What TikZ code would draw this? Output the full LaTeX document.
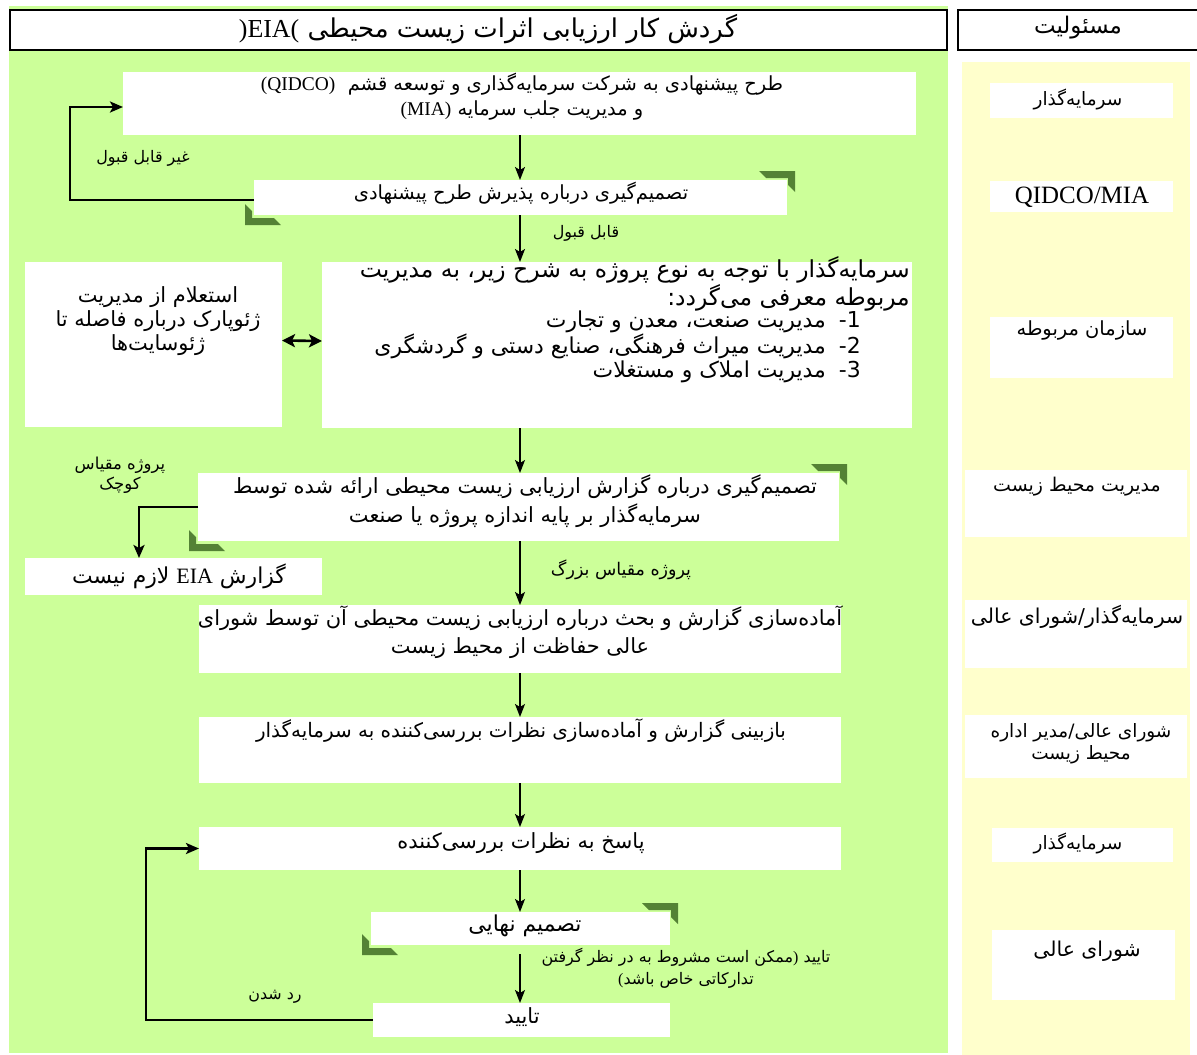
\documentclass[tikz,border=0pt]{standalone}
\usepackage{fontspec}
\setmainfont{Liberation Serif}
\newfontfamily\fa[Script=Arabic]{DejaVu Sans}
\TeXXeTstate=1
\usetikzlibrary{arrows.meta,fit,calc}
\newcommand\R[1]{\beginR#1\endR}
\newcommand\lat[1]{\beginL{\rmfamily #1}\endL{}}
\newcommand\fs[2]{\fa\fontsize{#1}{#2}\selectfont}
\definecolor{laneGreen}{RGB}{204,255,153}
\definecolor{laneYellow}{RGB}{255,255,204}
\definecolor{cornerGreen}{RGB}{84,130,53}
% green corner brackets around a box (top-right and bottom-left)
\newcommand\cornerTR[1]{%
  \path ([shift={(8,-9)}]#1.north east) coordinate (#1-tr);
  \fill[cornerGreen] ($(#1-tr)+(-36,0)$) -- (#1-tr) -- ++(0,21) -- ++(-7,-7) -- ++(0,-7) -- ++(-22,0) -- cycle;}
\newcommand\cornerBL[1]{%
  \path ([shift={(-9,10)}]#1.south west) coordinate (#1-bl);
  \fill[cornerGreen] (#1-bl) -- ++(0,-21) -- ++(7,7) -- ++(0,7) -- ++(22,0) -- ++(7,7) -- cycle;}
\begin{document}
\begin{tikzpicture}[x=1bp,y=-1bp,
  wbox/.style={fill=white,inner sep=0pt,outer sep=0pt},
  frame/.style={draw=black,line width=2bp,fill=white,inner sep=0pt,outer sep=0pt},
  txt/.style={inner sep=0pt,align=center,font=\fs{20}{25}},
  lbl/.style={inner sep=0pt,align=center,font=\fs{16}{21}},
  arr/.style={line width=1.4bp,-{Stealth[length=13bp,width=10bp,inset=3bp]}},
  loopline/.style={line width=2.6bp,-{Stealth[length=13bp,width=11bp,inset=3bp]}},
  twoway/.style={line width=2.6bp,{Stealth[length=13bp,width=13bp,inset=3bp]}-{Stealth[length=13bp,width=13bp,inset=3bp]}}]
\useasboundingbox (0,0) rectangle (1197,1055);
\fill[white] (0,0) rectangle (1197,1055);
% swim lanes
\fill[laneGreen] (9,6) rectangle (948,1053);
\fill[laneYellow] (962,62) rectangle (1190,1055);

% headers
\node[frame,fit={(10,10) (947,50)}] (head) {};
\node[txt,font=\fs{26}{28}] (head-t) at (488,29)
  {\R{گردش کار ارزیابی اثرات زیست محیطی \lat{)EIA(}}};
\node[frame,fit={(958,10) (1198,50)}] (resp) {};
\node[txt,font=\fs{23}{28}] (resp-t) at (1078,28) {\R{مسئولیت}};

% flow boxes
\node[wbox,fit={(123,72) (916,135)}] (b1) {};
\node[wbox,fit={(254,180) (787,215)}] (b2) {};
\node[wbox,fit={(322,262) (912,428)}] (b3) {};
\node[wbox,fit={(25,262) (282,427)}] (geo) {};
\node[wbox,fit={(198,473) (839,541)}] (b4) {};
\node[wbox,fit={(25,558) (322,595)}] (noeia) {};
\node[wbox,fit={(199,605) (841,673)}] (b5) {};
\node[wbox,fit={(199,717) (841,783)}] (b6) {};
\node[wbox,fit={(199,827) (841,870)}] (b7) {};
\node[wbox,fit={(371,912) (670,945)}] (b8) {};
\node[wbox,fit={(373,1003) (670,1037)}] (b9) {};

\cornerTR{b2}\cornerBL{b2}
\cornerTR{b4}\cornerBL{b4}
\cornerTR{b8}\cornerBL{b8}

% box texts
\node[txt,font=\fs{19.5}{25}] (b1-t) at (522,97)
  {\R{طرح پیشنهادی به شرکت سرمایه‌گذاری و توسعه قشم \ \lat{(QIDCO)}}\\
   \R{و مدیریت جلب سرمایه \lat{(MIA)}}};
\node[txt,font=\fs{19.5}{25}] (b2-t) at (521,193) {\R{تصمیم‌گیری درباره پذیرش طرح پیشنهادی}};
\node[txt,align=right,anchor=east,font=\fs{23.5}{24}] (b3-t) at (910,284)
  {\R{سرمایه‌گذار با توجه به نوع پروژه به شرح زیر، به مدیریت}\\
   \R{مربوطه معرفی می‌گردد:}};
\node[txt,align=right,anchor=east,font=\fs{22}{24}] (b3-list) at (861,347)
  {\R{1-\hspace{13bp}مدیریت صنعت، معدن و تجارت}\\
   \R{2-\hspace{13bp}مدیریت میراث فرهنگی، صنایع دستی و گردشگری}\\
   \R{3-\hspace{13bp}مدیریت املاک و مستغلات}};
\node[txt,font=\fs{21}{24}] (geo-t) at (158,321)
  {\R{استعلام از مدیریت}\\ \R{ژئوپارک درباره فاصله تا}\\ \R{ژئوسایت‌ها}};
\node[txt,font=\fs{21}{29}] (b4-t) at (525,501)
  {\R{تصمیم‌گیری درباره گزارش ارزیابی زیست محیطی ارائه شده توسط}\\
   \R{سرمایه‌گذار بر پایه اندازه پروژه یا صنعت}};
\node[txt,font=\fs{22}{25}] (noeia-t) at (179,576) {\R{گزارش \lat{EIA} لازم نیست}};
\node[txt,font=\fs{21}{28}] (b5-t) at (520,632)
  {\R{آماده‌سازی گزارش و بحث درباره ارزیابی زیست محیطی آن توسط شورای}\\
   \R{عالی حفاظت از محیط زیست}};
\node[txt] (b6-t) at (521,731) {\R{بازبینی گزارش و آماده‌سازی نظرات بررسی‌کننده به سرمایه‌گذار}};
\node[txt,font=\fs{21}{25}] (b7-t) at (521,843) {\R{پاسخ به نظرات بررسی‌کننده}};
\node[txt,font=\fs{22}{25}] (b8-t) at (525,926) {\R{تصمیم نهایی}};
\node[txt,font=\fs{21}{25}] (b9-t) at (522,1017) {\R{تایید}};

% responsibility column
\node[wbox,fit={(990,83) (1173,118)}] (r1) {};
\node[txt,font=\fs{18.5}{24}] (r1-t) at (1078,99) {\R{سرمایه‌گذار}};
\node[wbox,fit={(990,181) (1173,212)}] (r2) {};
\node[inner sep=0pt,font=\rmfamily\fontsize{25}{28}\selectfont] (r2-t) at (1082,197) {QIDCO/MIA};
\node[wbox,fit={(990,317) (1173,378)}] (r3) {};
\node[txt,font=\fs{19.5}{24}] (r3-t) at (1082,330) {\R{سازمان مربوطه}};
\node[wbox,fit={(965,470) (1187,537)}] (r4) {};
\node[txt,font=\fs{19}{24}] (r4-t) at (1077,487) {\R{مدیریت محیط زیست}};
\node[wbox,fit={(965,600) (1187,668)}] (r5) {};
\node[txt,font=\fs{20.5}{24}] (r5-t) at (1077,617) {\R{سرمایه‌گذار/شورای عالی}};
\node[wbox,fit={(965,715) (1187,778)}] (r6) {};
\node[txt,font=\fs{18.5}{22}] (r6-t) at (1081,744)
  {\R{شورای عالی/مدیر اداره}\\ \R{محیط زیست}};
\node[wbox,fit={(992,828) (1173,862)}] (r7) {};
\node[txt,font=\fs{18.5}{24}] (r7-t) at (1078,843) {\R{سرمایه‌گذار}};
\node[wbox,fit={(992,930) (1175,1000)}] (r8) {};
\node[txt,font=\fs{20.5}{24}] (r8-t) at (1087,951) {\R{شورای عالی}};

% connector labels
\node[lbl] (l-reject1) at (143,158) {\R{غیر قابل قبول}};
\node[lbl] (l-accept) at (586,233) {\R{قابل قبول}};
\node[lbl,font=\fs{16.5}{20}] (l-small) at (120,475) {\R{پروژه مقیاس}\\ \R{کوچک}};
\node[lbl,font=\fs{17.5}{21}] (l-large) at (621,570) {\R{پروژه مقیاس بزرگ}};
\node[lbl,font=\fs{16}{22}] (l-ok) at (686,968)
  {\R{تایید \lat{)}ممکن است مشروط به در نظر گرفتن}\\ \R{تدارکاتی خاص باشد\lat{(}}};
\node[lbl] (l-reject2) at (275,997) {\R{رد شدن}};

% main spine
\coordinate (spine) at (520,0);
\draw[arr] (spine |- b1.south) -- (spine |- b2.north);
\draw[arr] (spine |- b2.south) -- (spine |- b3.north);
\draw[arr] (spine |- b3.south) -- (spine |- b4.north);
\draw[arr] (spine |- b4.south) -- (spine |- b5.north);
\draw[arr] (spine |- b5.south) -- (spine |- b6.north);
\draw[arr] (spine |- b6.south) -- (spine |- b7.north);
\draw[arr] (spine |- b7.south) -- (spine |- b8.north);
\draw[arr,shorten <=9bp] (spine |- b8.south) -- (spine |- b9.north);

% side connectors
\coordinate (back1) at (70,0);
\draw[loopline] ([yshift=-2.5bp]b2.west) -- ([yshift=-2.5bp]b2.west -| back1)
  |- ([yshift=-3.5bp]b1.west);
\coordinate (drop) at (139,0);
\draw[loopline] (b4.west) -| (drop |- noeia.north);
\coordinate (back2) at (146,0);
\draw[loopline] (b9.west) -- (b9.west -| back2) |- (b7.west);
\draw[twoway] ([yshift=4bp]geo.east) -- ([yshift=4bp]b3.west);
\end{tikzpicture}
\end{document}
